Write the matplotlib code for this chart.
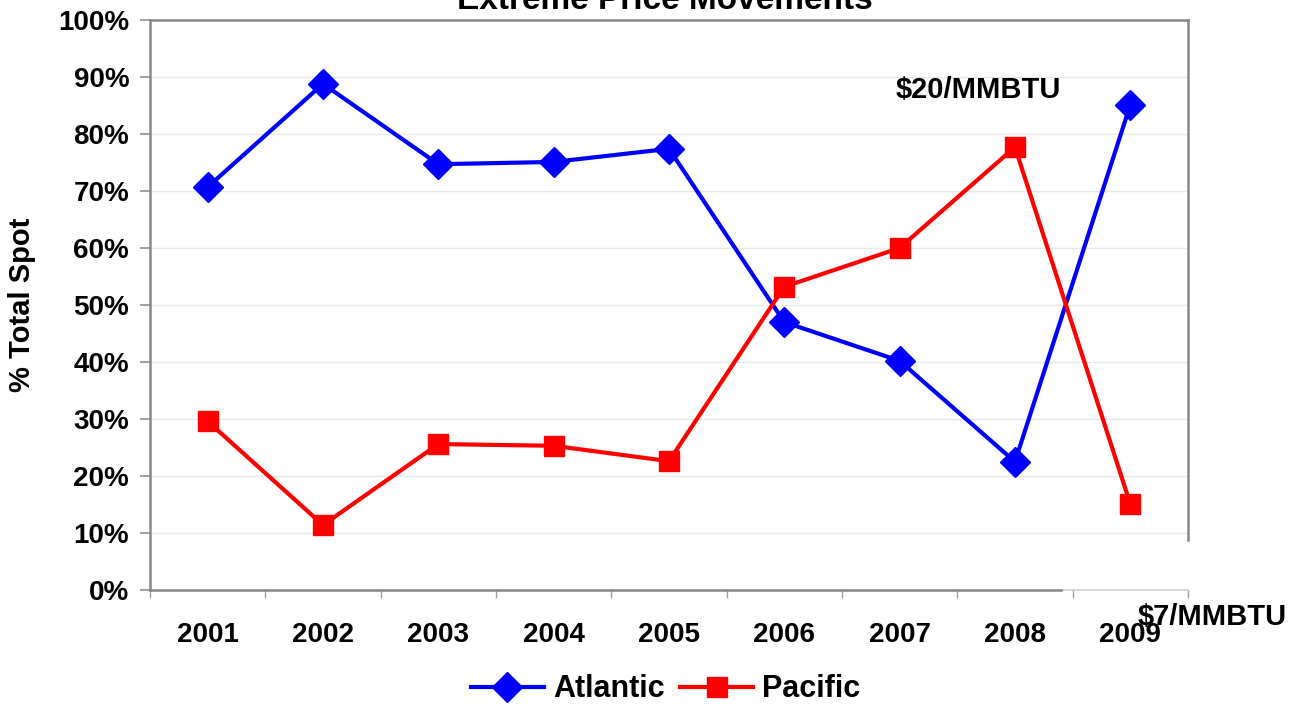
import matplotlib.pyplot as plt
import numpy as np

plt.rcParams['font.family'] = ['Liberation Sans', 'DejaVu Sans']
plt.rcParams['font.weight'] = 'bold'

# Andel av spot-volum per basseng (%)
years = ['2001', '2002', '2003', '2004', '2005', '2006', '2007', '2008', '2009']
atlantic = [70.7, 88.8, 74.7, 75.1, 77.4, 47.0, 40.2, 22.5, 85.1]
pacific = [29.6, 11.4, 25.6, 25.3, 22.6, 53.2, 60.0, 77.7, 15.1]
y_ticks = [0, 10, 20, 30, 40, 50, 60, 70, 80, 90, 100]

fig = plt.figure(figsize=(13, 7.07), dpi=100)
ax = fig.add_axes([0.1154, 0.1655, 0.7984, 0.8062])

x = np.arange(len(years))
ax.plot(x, atlantic, color='#0000ff', lw=3, marker='D', ms=15, label='Atlantic', zorder=3)
ax.plot(x, pacific, color='#ff0000', lw=3, marker='s', ms=15, label='Pacific', zorder=3)

ax.set_xlim(-0.5, len(years) - 0.5)
ax.set_ylim(0, 100)

# kategorier i midten, småstreker mellom årene
ax.set_xticks(x)
ax.set_xticklabels(years, fontsize=20, fontweight='bold')
ax.set_xticks(np.arange(len(years) + 1) - 0.5, minor=True)
ax.tick_params(axis='x', which='major', length=0, pad=23)
ax.tick_params(axis='x', which='minor', length=6, color='#a0a0a0', width=1)

ax.set_yticks(y_ticks)
ax.set_yticklabels(['{}%'.format(v) for v in y_ticks], fontsize=20, fontweight='bold')
ax.tick_params(axis='y', length=7, color='#909090', width=1.2, pad=8)

ax.grid(axis='y', color='#e8e8e8', lw=1)
ax.set_axisbelow(True)

for s in ['left', 'top', 'right', 'bottom']:
    ax.spines[s].set_color('#888888')
    ax.spines[s].set_linewidth(1.8)
ax.spines['right'].set_bounds(8.8, 100)
ax.spines['bottom'].set_bounds(-0.5, 7.4)
ax.plot([7.4, 8.5], [0, 0], color='#d0d0d0', lw=1.2, clip_on=False, zorder=2)

ax.set_ylabel('% Total Spot', fontsize=21, fontweight='bold', labelpad=16)

fig.text(0.5115, 0.9866, 'Extreme Price Movements', fontsize=24, fontweight='bold',
         ha='center', va='baseline')

ax.text(6.68, 86.3, '$20/MMBTU', fontsize=21, fontweight='bold', ha='center', va='baseline')
ax.text(8.71, -6.1, '$7/MMBTU', fontsize=21, fontweight='bold', ha='center', va='baseline',
        clip_on=False)

leg = fig.legend(loc='center', bbox_to_anchor=(0.512, 0.025), ncol=2, frameon=False,
                 prop={'size': 22, 'weight': 'bold'}, handlelength=2.4,
                 columnspacing=0.5, handletextpad=0.3)

plt.savefig('out.png', dpi=100)
